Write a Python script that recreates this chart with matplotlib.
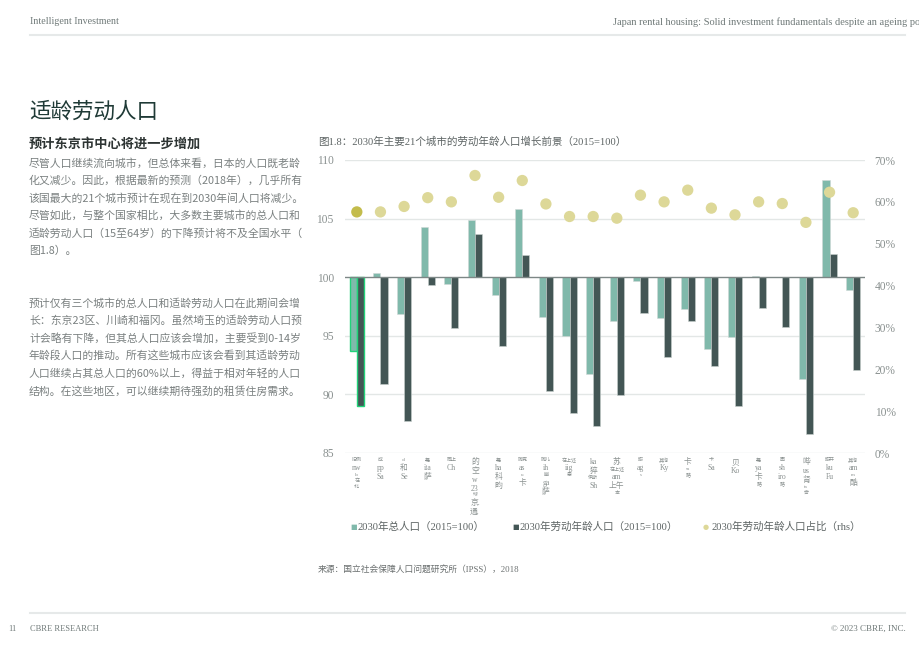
import numpy as np
import matplotlib
matplotlib.use("Agg")
from matplotlib import pyplot as plt
from matplotlib.ticker import FuncFormatter

plt.rcParams['font.family'] = ['Liberation Serif', 'Noto Sans CJK SC', 'DejaVu Sans']
CJK = ['Noto Sans CJK SC', 'DejaVu Sans']

#############################################
# data

total_pop = [93.7, 100.35, 96.9, 104.25, 99.4, 104.85, 98.5, 105.8, 96.6, 95.0, 91.7,
             96.3, 99.7, 96.5, 97.3, 93.9, 94.9, 100.1, 100.0, 91.3, 108.3, 98.95]
work_pop = [89.0, 90.85, 87.7, 99.35, 95.7, 103.65, 94.15, 101.9, 90.3, 88.4, 87.3,
            89.95, 96.95, 93.2, 96.25, 92.45, 89.0, 97.35, 95.75, 86.6, 102.0, 92.05]
work_share = [0.576, 0.576, 0.589, 0.610, 0.600, 0.663, 0.611, 0.651, 0.595, 0.565, 0.565,
              0.561, 0.616, 0.600, 0.628, 0.585, 0.569, 0.600, 0.596, 0.551, 0.623, 0.574]

# garbled city labels as they appear (lines starting with "." are tiny)
city_labels = [
    [".旧例", "nw", ".lo", ".在", ".北."],
    [".成", "pp", "Sa"],
    [".ol", "和", "Se"],
    [".舞", "ita", "萨"],
    [".同上", "Ch"],
    ["的", "空", "w", "23", ".球", "京.", "通."],
    [".舞", "ha", "科", "畇"],
    [".阿克", "as", ".u", "卡"],
    [".阿儿", "ih", ".幽", "ga", "萨"],
    [".在上述", "iig", ".恩"],
    ["ka", "猝", ".伊斯", "Sh"],
    ["苏", ".在上述", "am", "上午", ".本"],
    [".暇", "ag", ".s"],
    [".其他", "Ky"],
    ["卡", ".sa", ".略"],
    [".卡", "Sa"],
    ["贝", "Ko"],
    [".舞", "ya", "卡", ".略"],
    [".因", "sh", "iro", ".略"],
    ["哔", "us", "肾", ".ta", ".奇"],
    [".暇开", "ku", "Fu"],
    [".其他", "am", ".m", "酷"],
]

left_ticks = [85, 90, 95, 100, 105, 110]
right_ticks = [0, 0.1, 0.2, 0.3, 0.4, 0.5, 0.6, 0.7]

legend_names = ["2030年总人口（2015=100）", "2030年劳动年龄人口（2015=100）", "2030年劳动年龄人口占比（rhs）"]

para1 = ["尽管人口继续流向城市，但总体来看，日本的人口既老龄",
         "化又减少。因此，根据最新的预测（2018年），几乎所有",
         "该国最大的21个城市预计在现在到2030年间人口将减少。",
         "尽管如此，与整个国家相比，大多数主要城市的总人口和",
         "适龄劳动人口（15至64岁）的下降预计将不及全国水平（",
         "图1.8）。"]
para2 = ["预计仅有三个城市的总人口和适龄劳动人口在此期间会增",
         "长：东京23区、川崎和福冈。虽然埼玉的适龄劳动人口预",
         "计会略有下降，但其总人口应该会增加，主要受到0-14岁",
         "年龄段人口的推动。所有这些城市应该会看到其适龄劳动",
         "人口继续占其总人口的60%以上，得益于相对年轻的人口",
         "结构。在这些地区，可以继续期待强劲的租赁住房需求。"]

#############################################
# colours

c_light = '#80b9ab'
c_dark = '#435655'
c_dot = '#ddd898'
c_dot_hi = '#c3bc4c'
c_hi_edge = '#22d37a'
c_grey = '#7d8786'
c_text = '#7a8080'

W, H = 920, 651
fig = plt.figure(figsize=(W / 100, H / 100), dpi=100)

def fx(px):
    return px / W

def fy(py):
    return 1 - py / H

# header / footer
fig.text(fx(30), fy(22), "Intelligent Investment", fontsize=7.2, color='#6f7978', va='center')
fig.text(fx(613), fy(22), "Japan rental housing: Solid investment fundamentals despite an ageing population",
         fontsize=7.5, color='#6f7978', va='center')
fig.add_artist(plt.Line2D([fx(30), fx(905)], [fy(35), fy(35)], color='#e6e9e9', lw=1.5))
fig.add_artist(plt.Line2D([fx(30), fx(905)], [fy(613), fy(613)], color='#e6e9e9', lw=1.5))
fig.text(fx(8), fy(629), "11", fontsize=6, color='#6f7978', va='center')
fig.text(fx(30), fy(629), "CBRE RESEARCH", fontsize=6, color='#6f7978', va='center')
fig.text(fx(906), fy(629), "© 2023 CBRE, INC.", fontsize=6.5, color='#6f7978', va='center', ha='right')

# left column text
fig.text(fx(29), fy(112), "适龄劳动人口", fontsize=15.5, color='#1f3a36', va='center', family=CJK)
fig.text(fx(29), fy(144), "预计东京市中心将进一步增加", fontsize=9.5, color='#2d3433', va='center',
         family=CJK, fontweight='bold')
for k, line in enumerate(para1):
    fig.text(fx(29), fy(163 + k * 17.6), line, fontsize=7.8, color=c_text, va='center', family=CJK)
for k, line in enumerate(para2):
    fig.text(fx(29), fy(303 + k * 17.6), line, fontsize=7.8, color=c_text, va='center', family=CJK)

# chart title
fig.text(fx(318), fy(142), "图1.8：2030年主要21个城市的劳动年龄人口增长前景（2015=100）",
         fontsize=7.6, color='#5d6464', va='center')

#############################################
# chart

ax = fig.add_axes([fx(345), fy(453), fx(865) - fx(345), (453 - 160) / H])
x = np.arange(len(total_pop))
n = len(x)
bw = 0.3

tp = np.array(total_pop)
wp = np.array(work_pop)
b1 = ax.bar(x - bw / 2, tp - 100, bw, bottom=100, color=c_light, edgecolor='#d0d8d6', lw=0.4, zorder=3)
b2 = ax.bar(x + bw / 2, wp - 100, bw, bottom=100, color=c_dark, edgecolor='#c8d0ce', lw=0.4, zorder=3)
b1[0].set_edgecolor(c_hi_edge)
b1[0].set_linewidth(1.0)
b2[0].set_edgecolor(c_hi_edge)
b2[0].set_linewidth(1.0)

ax.set_xlim(-0.5, n - 0.5)
ax.set_ylim(85, 110)
ax.set_yticks(left_ticks)
for t in left_ticks:
    if t == 100:
        ax.axhline(t, color=c_grey, lw=1.0, zorder=4)
    else:
        ax.axhline(t, color='#e3e7e6', lw=1.0, zorder=1)
for s in ax.spines.values():
    s.set_visible(False)
ax.tick_params(axis='y', length=0, pad=8, labelsize=8.3, labelcolor='#8a9190')
ax.set_xticks(x)
ax.set_xticklabels([])
ax.tick_params(axis='x', length=0)

# garbled multi-line city labels
trans = ax.get_xaxis_transform()
for i, lines in enumerate(city_labels):
    yy = -0.018
    for ln in lines:
        small = ln.startswith('.')
        txt = ln[1:] if small else ln
        size = 3.6 if small else 5.6
        ax.text(i, yy, txt, transform=trans, fontsize=size, color='#8a9190',
                ha='center', va='top', family=['Liberation Serif', 'Noto Sans CJK SC'])
        yy -= (0.02 if small else 0.03)

ax2 = ax.twinx()
ax2.set_ylim(0, 0.7)
ax2.set_yticks(right_ticks)
ax2.yaxis.set_major_formatter(FuncFormatter(lambda v, p: f"{v * 100:.0f}%"))
ax2.tick_params(axis='y', length=0, pad=7, labelsize=8.3, labelcolor='#8a9190')
for s in ax2.spines.values():
    s.set_visible(False)
dot_cols = [c_dot_hi] + [c_dot] * (n - 1)
ax2.scatter(x, work_share, s=66, color=dot_cols, zorder=5, linewidths=0)

# legend row
leg_y = fy(527)
fig.text(fx(350), leg_y, "■", fontsize=5, color=c_light, va='center', family=['DejaVu Sans'])
fig.text(fx(358), leg_y, legend_names[0], fontsize=7.6, color='#5d6464', va='center')
fig.text(fx(512), leg_y, "■", fontsize=5, color=c_dark, va='center', family=['DejaVu Sans'])
fig.text(fx(520), leg_y, legend_names[1], fontsize=7.6, color='#5d6464', va='center')
fig.text(fx(703), leg_y, "●", fontsize=5, color=c_dot, va='center', family=['DejaVu Sans'])
fig.text(fx(711), leg_y, legend_names[2], fontsize=7.6, color='#5d6464', va='center')

fig.text(fx(318), fy(569), "来源：国立社会保障人口问题研究所（IPSS），2018", fontsize=6.3,
         color='#6a6f6f', va='center')

fig.savefig("out.png", dpi=100)
